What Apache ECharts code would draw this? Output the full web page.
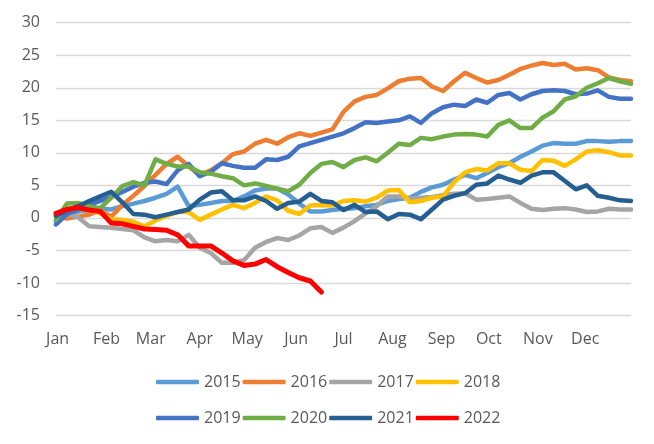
<!DOCTYPE html>
<html>
<head>
<meta charset="utf-8">
<script src="https://cdn.jsdelivr.net/npm/echarts@6/dist/echarts.min.js"></script>
<style>
html,body{margin:0;padding:0;background:#fff;}
#chart{width:654px;height:444px;}
</style>
</head>
<body>
<div id="chart"></div>
<script>
// Month tick labels and the day-of-year each month starts on
var monthLabels = ['Jan','Feb','Mar','Apr','May','Jun','Jul','Aug','Sep','Oct','Nov','Dec'];
var monthStartDay = [1, 32, 60, 91, 121, 152, 182, 213, 244, 274, 305, 335];

// Weekly values, one array per year
var s2015 = [-0.5,0.5,1.0,1.2,1.4,1.3,1.8,2.2,2.6,3.1,3.7,4.8,1.8,2.0,2.3,2.6,2.6,3.3,4.2,4.5,4.5,3.6,2.2,1.0,1.0,1.2,1.4,1.5,1.8,2.0,2.6,2.9,3.1,4.0,4.7,5.1,5.9,6.6,6.1,6.9,7.8,8.4,9.4,10.2,11.1,11.5,11.4,11.4,11.8,11.8,11.7,11.8,11.8];
var s2016 = [0.3,-0.1,0.2,0.5,1.2,0.2,2.0,3.4,4.9,6.6,8.3,9.4,7.9,6.6,7.3,8.4,9.8,10.2,11.4,12.0,11.4,12.4,13.0,12.6,13.1,13.6,16.3,17.9,18.6,18.9,19.9,21.0,21.4,21.5,20.2,19.5,21.0,22.3,21.5,20.8,21.2,22.0,22.9,23.4,23.8,23.5,23.7,22.8,23.0,22.7,21.6,21.2,21.0];
var s2017 = [0.0,0.6,0.1,-1.3,-1.4,-1.5,-1.7,-1.9,-3.0,-3.6,-3.4,-3.6,-2.6,-4.6,-5.4,-6.9,-6.9,-6.5,-4.6,-3.7,-3.1,-3.4,-2.7,-1.6,-1.4,-2.3,-1.5,-0.5,0.7,1.8,3.3,3.3,3.0,3.1,3.2,3.5,3.7,3.8,2.8,2.9,3.1,3.3,2.3,1.4,1.2,1.4,1.5,1.3,0.9,1.0,1.4,1.3,1.3];
var s2018 = [0.5,1.5,1.4,1.2,0.7,-0.2,-0.3,-0.6,-1.3,-0.4,0.3,0.9,0.9,-0.3,0.5,1.3,2.0,1.5,2.3,3.3,2.7,1.1,0.6,1.9,2.0,1.9,2.6,2.7,2.5,3.1,4.2,4.3,2.4,2.6,3.1,3.3,5.5,7.0,7.5,7.3,8.4,8.4,7.4,7.2,8.9,8.8,8.0,9.0,10.2,10.4,10.1,9.6,9.6];
var s2019 = [-1.0,0.6,1.3,2.0,2.6,3.2,4.0,4.8,5.4,5.6,5.2,7.3,8.3,6.4,7.1,8.4,8.0,7.7,7.7,9.0,8.9,9.4,11.0,11.5,12.0,12.5,13.0,13.8,14.7,14.6,14.8,15.0,15.6,14.6,16.1,17.0,17.4,17.2,18.2,17.7,18.9,19.2,18.2,19.0,19.5,19.6,19.5,19.0,19.1,19.6,18.6,18.3,18.3];
var s2020 = [-0.3,2.2,2.3,1.8,1.5,3.1,4.9,5.5,5.0,9.0,8.3,7.9,7.9,7.0,6.8,6.4,6.1,5.0,5.3,4.9,4.5,4.1,5.1,6.9,8.3,8.6,7.8,8.9,9.3,8.7,10.0,11.4,11.2,12.3,12.1,12.5,12.8,12.9,12.8,12.5,14.3,15.0,13.8,13.8,15.4,16.4,18.2,18.7,20.0,20.7,21.5,21.0,20.6];
var s2021 = [0.3,1.2,1.8,2.6,3.3,4.0,2.4,0.6,0.5,0.1,0.5,0.9,1.3,2.8,3.9,4.1,2.7,2.7,3.3,2.6,1.4,2.3,2.5,3.7,2.6,2.4,1.2,2.0,0.9,1.0,-0.2,0.6,0.5,-0.2,1.3,2.8,3.4,3.8,5.1,5.3,6.5,5.9,5.4,6.5,7.0,7.0,5.7,4.4,5.0,3.4,3.1,2.7,2.6];
var s2022 = [0.7,1.3,1.6,1.2,1.0,-0.8,-0.9,-1.3,-1.7,-1.8,-1.9,-2.6,-4.3,-4.3,-4.3,-5.4,-6.6,-7.3,-7.1,-6.4,-7.5,-8.4,-9.2,-9.7,-11.4];

var seriesNames = ['2015','2016','2017','2018','2019','2020','2021','2022'];
var seriesValues = [s2015,s2016,s2017,s2018,s2019,s2020,s2021,s2022];
var seriesColors = ['#5B9BD5','#ED7D31','#A5A5A5','#FFC000','#4472C4','#70AD47','#255E91','#FF0000'];

var FONT = '"Open Sans", "Liberation Sans", sans-serif';
var TXT = '#595959';

var tickPos = monthStartDay.map(function (d) { return d / 7; });

var series = seriesNames.map(function (name, k) {
  return {
    name: name,
    type: 'line',
    symbol: 'none',
    showSymbol: false,
    color: seriesColors[k],
    lineStyle: { width: name === '2022' ? 5 : 4.5, color: seriesColors[k], join: 'round', cap: 'round' },
    data: seriesValues[k].map(function (v, i) { return [i, v]; }),
    z: 2 + k
  };
});

function legendFor(names, top) {
  return {
    data: names,
    top: top,
    left: 156,
    padding: 0,
    itemWidth: 43,
    itemHeight: 4.5,
    itemGap: 2,
    icon: 'roundRect',
    selectedMode: false,
    textStyle: { color: TXT, fontFamily: FONT, fontSize: 16, width: 38 }
  };
}

var chart = echarts.init(document.getElementById('chart'), null, { renderer: 'canvas' });
chart.setOption({
  animation: false,
  backgroundColor: '#ffffff',
  grid: { left: 56, right: 23, top: 22.7, bottom: 128.5, containLabel: false },
  legend: [
    legendFor(['2015','2016','2017','2018'], 374),
    legendFor(['2019','2020','2021','2022'], 410)
  ],
  xAxis: {
    type: 'value',
    min: 0,
    max: s2015.length - 1,
    axisLine: { show: false },
    axisTick: { show: false },
    splitLine: { show: false },
    axisLabel: {
      customValues: tickPos,
      formatter: function (v) {
        var idx = tickPos.indexOf(v);
        return idx >= 0 ? monthLabels[idx] : '';
      },
      color: TXT,
      fontFamily: FONT,
      fontSize: 16,
      margin: 16,
      showMinLabel: true,
      showMaxLabel: true,
      hideOverlap: false
    }
  },
  yAxis: {
    type: 'value',
    min: -15,
    max: 30,
    interval: 5,
    axisLine: { show: false },
    axisTick: { show: false },
    splitLine: { show: true, lineStyle: { color: '#d9d9d9', width: 1.3 } },
    axisLabel: { color: TXT, fontFamily: FONT, fontSize: 16, margin: 16 }
  },
  series: series
});
</script>
</body>
</html>
